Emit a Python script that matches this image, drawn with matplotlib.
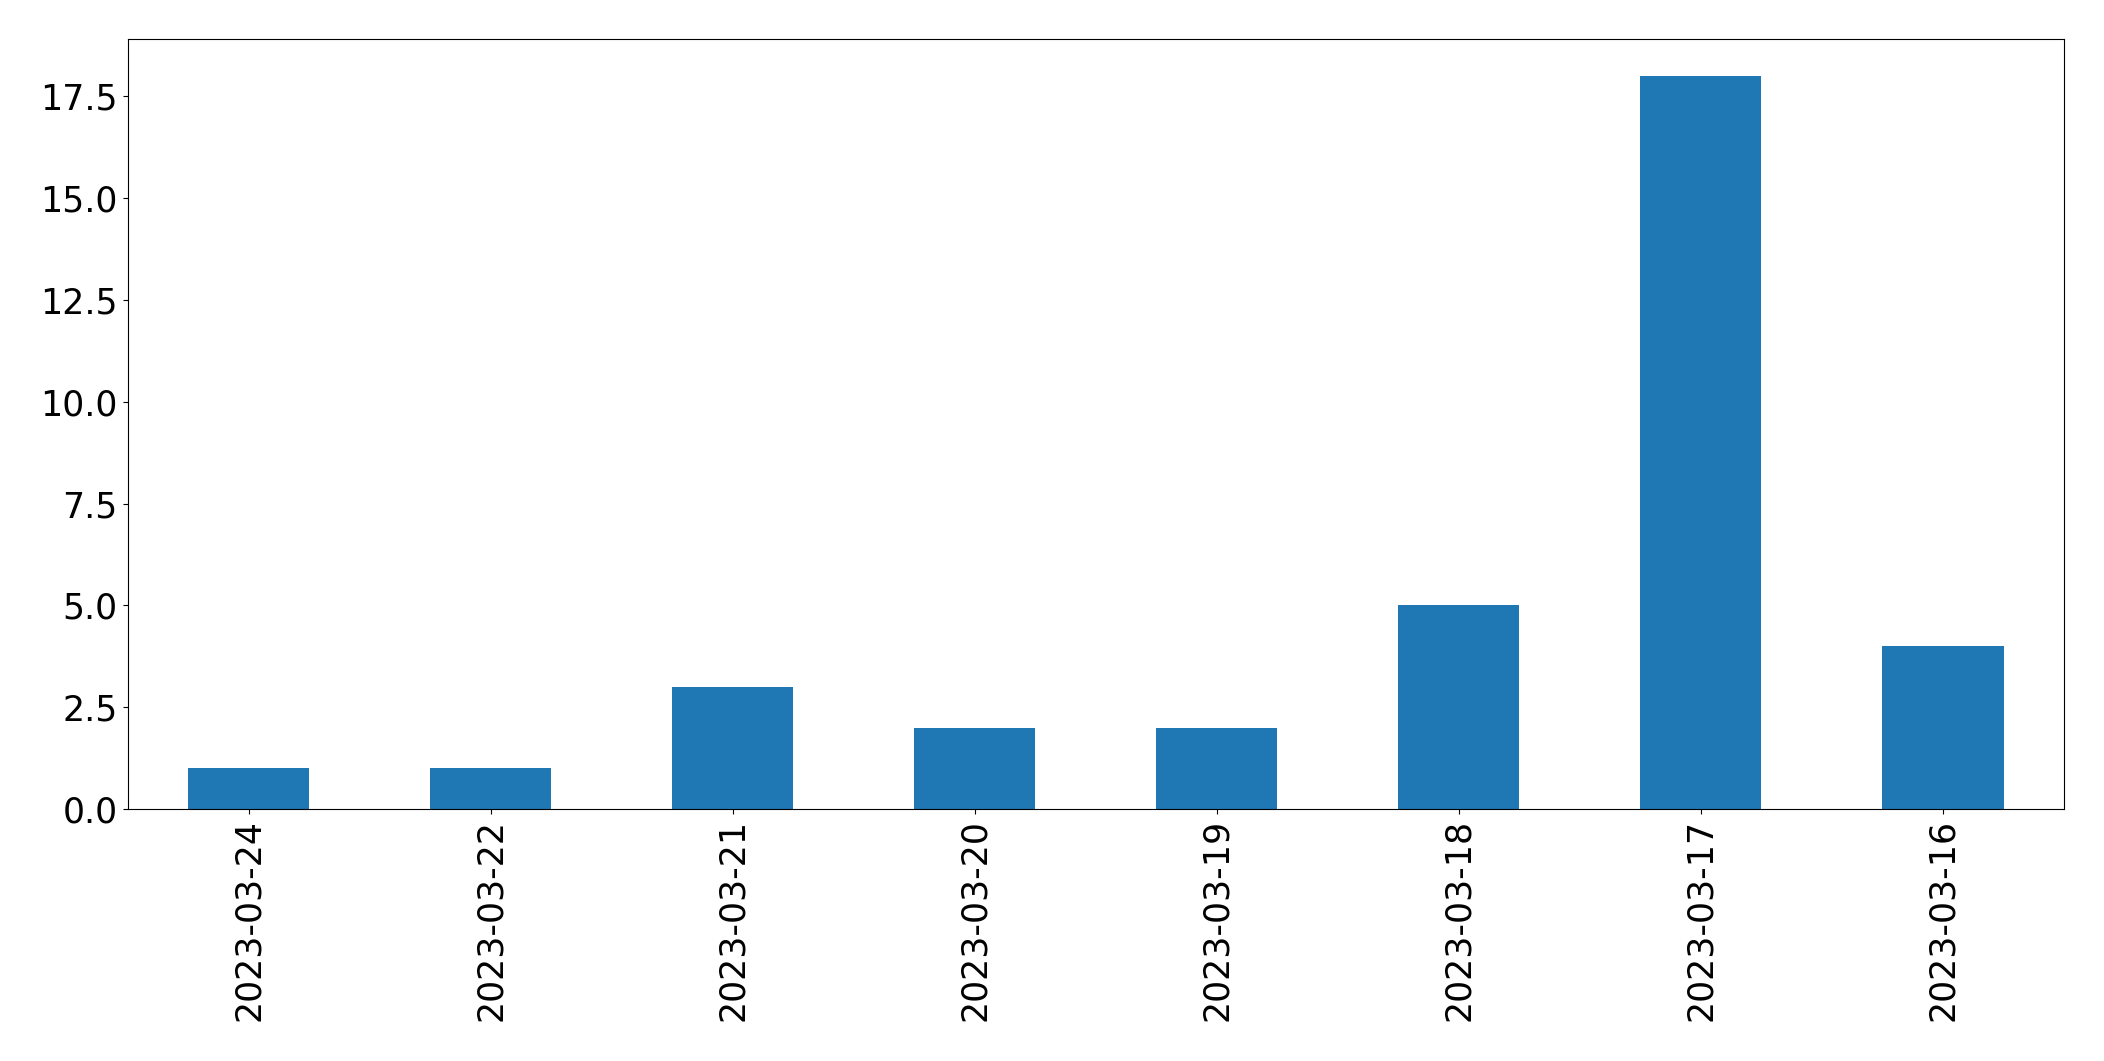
import matplotlib
matplotlib.use("Agg")
import matplotlib.pyplot as plt
import pandas as pd

# Conteo por fecha
dates = ["2023-03-24", "2023-03-22", "2023-03-21", "2023-03-20",
         "2023-03-19", "2023-03-18", "2023-03-17", "2023-03-16"]
counts = [1, 1, 3, 2, 2, 5, 18, 4]

s = pd.Series(counts, index=dates)

fig = plt.figure(figsize=(21.04, 10.61), dpi=100)
ax = fig.add_axes([0.0606, 0.2375, 0.9204, 0.7255])
s.plot(kind="bar", ax=ax, fontsize=25)

fig.savefig("out.png", dpi=100)
